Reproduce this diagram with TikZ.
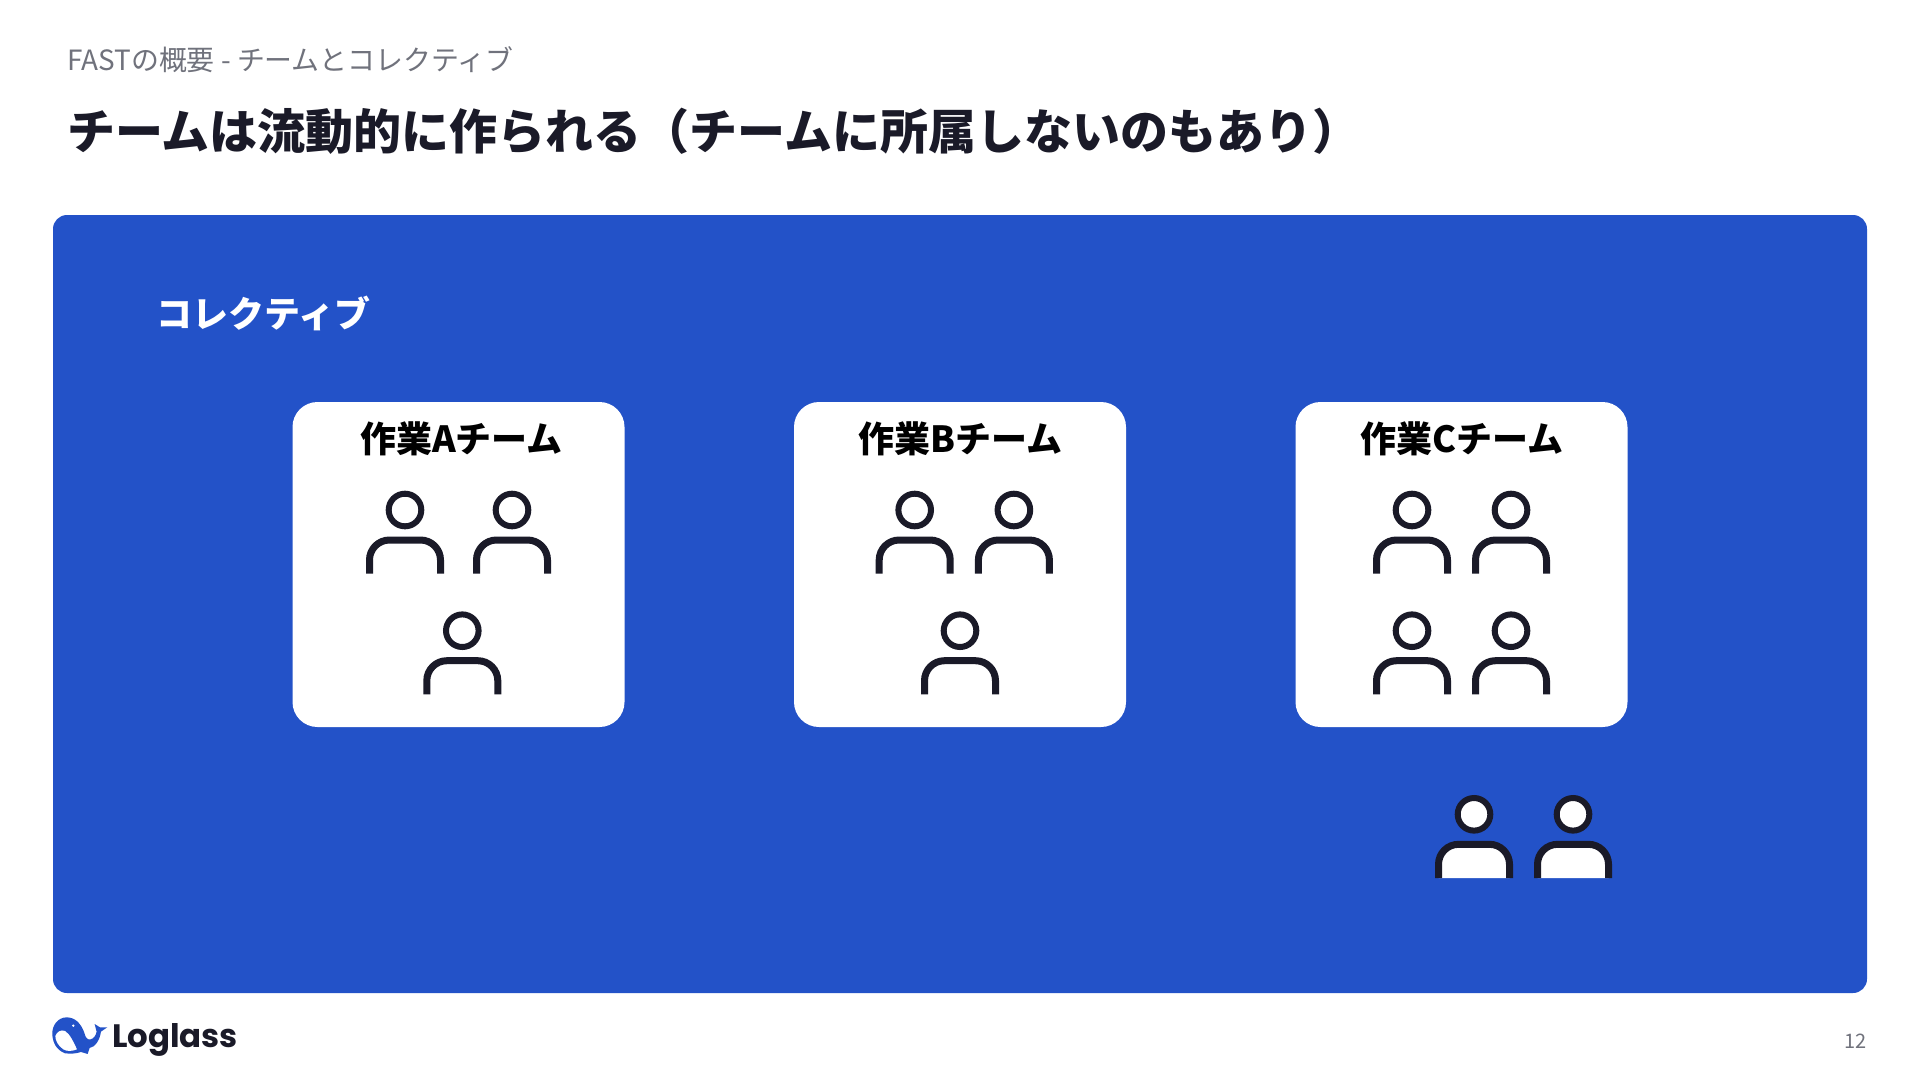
\documentclass[tikz,border=0pt]{standalone}
\usepackage{fontspec}
\setmainfont{Noto Sans CJK JP}
\newfontfamily\logofont{Poppins}
\definecolor{brandblue}{HTML}{2352C8}
\definecolor{inkdark}{HTML}{1A1A28}
\definecolor{inkgray}{HTML}{70727C}
\tikzset{
    %Define style for boxes
    collective/.style={
           rectangle,
           rounded corners=14pt,
           fill=brandblue,
           minimum width=1814pt,
           minimum height=778pt},
    teambox/.style={
           rectangle,
           rounded corners=25pt,
           fill=white,
           minimum width=332pt,
           minimum height=325pt},
    teamlabel/.style={
           font=\fontsize{36}{42}\selectfont\bfseries,
           text=black,
           anchor=center},
    % Define person icon
    person/.pic={
           \draw[draw=inkdark, line width=6pt, pic actions] (0,0) circle (16.3pt);
           \draw[draw=inkdark, line width=7pt, pic actions] (-35.5pt,-63.7pt) -- (-35.5pt,-50pt)
               arc[start angle=180, end angle=90, radius=20pt] -- (15.5pt,-30pt)
               arc[start angle=90, end angle=0, radius=20pt] -- (35.5pt,-63.7pt);
    },
}
\begin{document}
\begin{tikzpicture}[x=1pt,y=-1pt]
\useasboundingbox[fill=white] (0,0) rectangle (1920,1080);
 %headings
\node[anchor=west, inner sep=0pt, text=inkgray, font=\fontsize{27.9}{33}\selectfont] (section) at (67,60) {FASTの概要 - チームとコレクティブ};
\node[anchor=west, inner sep=0pt, text=inkdark, font=\fontsize{48}{58}\selectfont\bfseries] (title) at (67,131) {チームは流動的に作られる（チームに所属しないのもあり）};
 %panels
\node[collective] (panel) at (960,604) {};
\node[anchor=west, inner sep=0pt, text=white, font=\fontsize{36}{42}\selectfont\bfseries] (panellabel) at (156,313) {コレクティブ};
\node[teambox] (boxa) at (458.5,564.5) {};
\node[teambox] (boxb) at (960,564.5) {};
\node[teambox] (boxc) at (1461.5,564.5) {};
\node[teamlabel] (labela) at (461.5,439) {作業Aチーム};
\node[teamlabel] (labelb) at (960,439) {作業Bチーム};
\node[teamlabel] (labelc) at (1462,439) {作業Cチーム};
 %people
\foreach \px/\py in {405/510,512/510,462.3/630.7,914.7/510,1013.9/510,960/630.7,1412/510,1511/510,1412/630.7,1511/630.7}
    \pic at (\px,\py) {person};
\foreach \px in {1474,1573}
    \pic[fill=white] at (\px,814.3) {person};
 %footer
\begin{scope}[shift={(45,1010)}, x=.333pt, y=-.333pt]
\fill[brandblue] (22,75) .. controls (20,45) and (40,22) .. (65,22)
    .. controls (90,22) and (108,40) .. (118,68)
    .. controls (122,85) and (128,90) .. (137,88)
    .. controls (147,86) and (153,76) .. (155,65)
    -- (149,42) -- (165,52) -- (187,52) -- (168,65)
    .. controls (165,90) and (150,112) .. (134,114)
    -- (128,132) -- (108,126) .. controls (95,131) and (75,132) .. (60,130)
    .. controls (35,120) and (24,100) .. (22,75) -- cycle;
\fill[white] (31,78) .. controls (36,65) and (48,58) .. (60,63)
    .. controls (75,72) and (85,95) .. (96,118)
    .. controls (82,124) and (65,125) .. (55,118)
    .. controls (40,108) and (31,92) .. (31,78) -- cycle;
\fill[white] (85,47) circle (4);
\end{scope}
\node[anchor=base west, inner sep=0pt, text=inkdark, font=\logofont\bfseries\fontsize{32.4}{40}\selectfont] (logotext) at (112,1047) {Loglass};
\node[anchor=east, inner sep=0pt, text=inkgray, font=\fontsize{20}{24}\selectfont] (pagenum) at (1867,1041) {12};
\end{tikzpicture}
\end{document}
